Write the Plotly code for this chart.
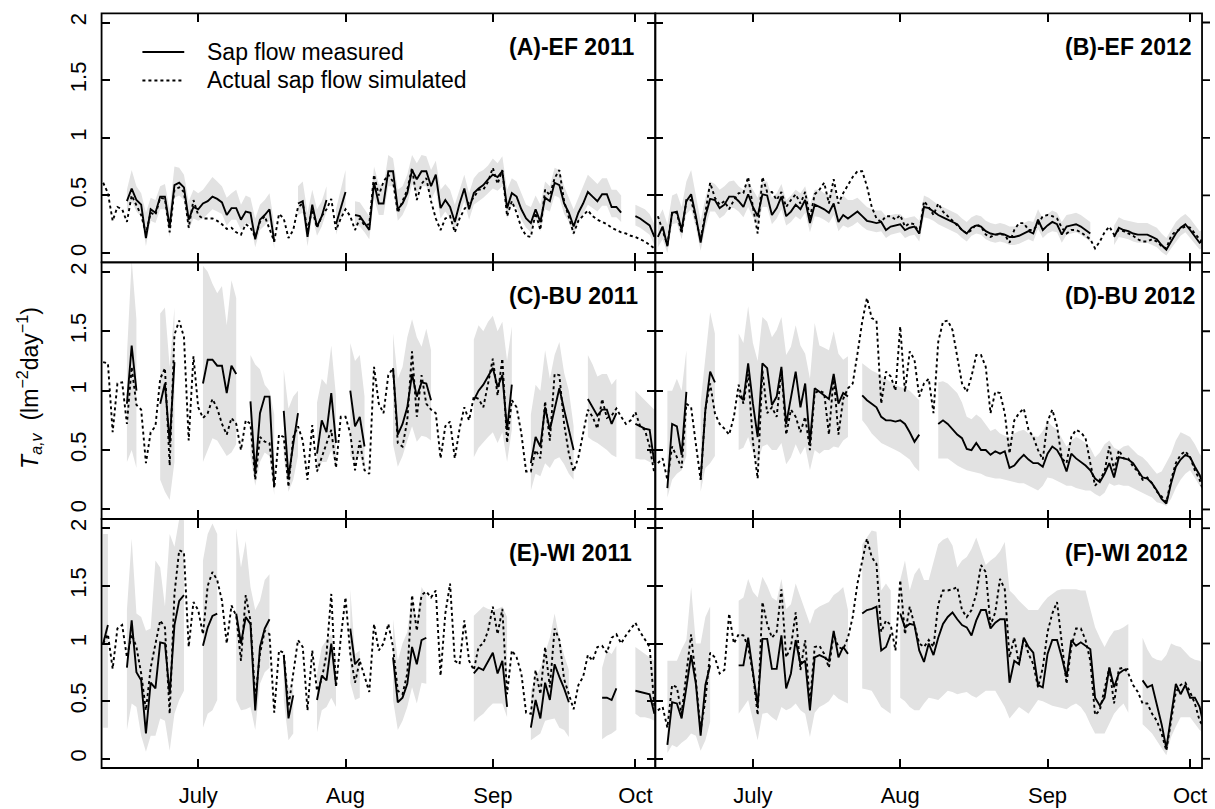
import pandas as pd
import plotly.graph_objects as go

N = None
FONT = "Liberation Sans, Arial, Helvetica, sans-serif"

# ---------------------------------------------------------------- categories
N_DAYS = 117                      # daily values, 11 June ... 5 October
START = {"2011": "2011-06-11", "2012": "2012-06-11"}
month_ticks = ["07-01", "08-01", "09-01", "10-01"]
month_labels = ["July", "Aug", "Sep", "Oct"]
y_ticks = [0, 0.5, 1, 1.5, 2]
y_tick_labels = ["0", "0.5", "1", "1.5", "2"]
legend_labels = ["Sap flow measured", "Actual sap flow simulated"]
panel_labels = ["(A)-EF 2011", "(B)-EF 2012", "(C)-BU 2011",
                "(D)-BU 2012", "(E)-WI 2011", "(F)-WI 2012"]
panel_years = ["2011", "2012", "2011", "2012", "2011", "2012"]

# ---------------------------------------------------------------- (A) EF 2011
meas_A = [N, N, N, N, N, 0.45, 0.56, 0.46, 0.42, 0.13,
          0.38, 0.35, 0.49, 0.49, 0.23, 0.59, 0.61, 0.57, 0.29, 0.40,
          0.38, 0.43, 0.45, 0.49, 0.47, 0.44, 0.33, 0.39, 0.39, 0.29,
          0.36, 0.35, 0.12, 0.29, 0.33, 0.38, 0.10, N, N, N,
          N, 0.43, 0.45, 0.14, 0.42, 0.23, 0.32, 0.46, N, 0.25,
          0.40, 0.53, N, 0.33, 0.32, 0.26, 0.20, 0.61, 0.43, 0.43,
          0.71, 0.71, 0.38, 0.43, 0.52, 0.72, 0.64, 0.71, 0.71, 0.58,
          0.68, 0.39, 0.46, 0.40, 0.27, 0.43, 0.56, 0.38, 0.52, 0.56,
          0.59, 0.64, 0.68, 0.66, 0.71, 0.39, 0.52, 0.49, 0.38, 0.30,
          0.26, 0.38, 0.27, 0.48, 0.45, 0.61, 0.59, 0.43, 0.35, 0.23,
          0.35, 0.43, 0.53, 0.49, 0.45, 0.51, 0.51, 0.40, 0.40, 0.35,
          N, N, 0.32, 0.30, 0.27, 0.24, 0.14]
sim_A = [0.61, 0.52, 0.28, 0.40, 0.38, 0.27, 0.50, 0.42, 0.33, 0.17,
         0.35, 0.33, 0.48, 0.47, 0.18, 0.55, 0.57, 0.53, 0.22, 0.46,
         0.33, 0.30, 0.30, 0.30, 0.28, 0.25, 0.21, 0.22, 0.18, 0.16,
         0.25, 0.22, 0.14, 0.27, 0.32, 0.20, 0.10, 0.34, 0.30, 0.13,
         0.20, 0.40, 0.43, 0.20, 0.38, 0.22, 0.32, 0.38, 0.47, 0.20,
         0.30, 0.38, 0.32, 0.20, 0.30, 0.24, 0.25, 0.68, 0.50, 0.62,
         0.68, 0.62, 0.35, 0.45, 0.55, 0.74, 0.46, 0.60, 0.65, 0.45,
         0.30, 0.20, 0.30, 0.32, 0.18, 0.30, 0.38, 0.44, 0.48, 0.55,
         0.55, 0.62, 0.74, 0.60, 0.72, 0.32, 0.45, 0.35, 0.22, 0.15,
         0.14, 0.35, 0.20, 0.55, 0.50, 0.65, 0.72, 0.45, 0.30, 0.17,
         0.28, 0.33, 0.37, 0.32, 0.29, 0.27, 0.25, 0.22, 0.20, 0.18,
         0.17, 0.15, 0.14, 0.12, 0.10, 0.07, 0.04]
hi_A = [N, N, N, N, N, 0.55, 0.72, 0.58, 0.52, 0.35,
        0.48, 0.46, 0.58, 0.60, 0.38, 0.75, 0.74, 0.68, 0.45, 0.55,
        0.52, 0.55, 0.60, 0.66, 0.62, 0.58, 0.48, 0.52, 0.55, 0.42,
        0.50, 0.48, 0.30, 0.42, 0.46, 0.52, 0.25, N, N, N,
        N, 0.58, 0.62, 0.35, 0.55, 0.38, 0.45, 0.58, N, 0.38,
        0.55, 0.72, N, 0.45, 0.44, 0.38, 0.32, 0.75, 0.60, 0.58,
        0.85, 0.82, 0.55, 0.58, 0.68, 0.85, 0.78, 0.85, 0.84, 0.72,
        0.80, 0.55, 0.60, 0.55, 0.42, 0.55, 0.68, 0.52, 0.65, 0.70,
        0.72, 0.76, 0.82, 0.78, 0.84, 0.55, 0.65, 0.62, 0.52, 0.42,
        0.40, 0.50, 0.42, 0.62, 0.58, 0.74, 0.72, 0.58, 0.48, 0.38,
        0.48, 0.58, 0.68, 0.64, 0.60, 0.65, 0.65, 0.55, 0.55, 0.50,
        N, N, 0.42, 0.40, 0.38, 0.34, 0.25]
lo_A = [N, N, N, N, N, 0.35, 0.45, 0.36, 0.32, 0.06,
        0.28, 0.26, 0.38, 0.38, 0.14, 0.48, 0.50, 0.46, 0.20, 0.30,
        0.28, 0.30, 0.34, 0.38, 0.36, 0.34, 0.24, 0.29, 0.29, 0.20,
        0.26, 0.25, 0.05, 0.20, 0.24, 0.28, 0.04, N, N, N,
        N, 0.33, 0.35, 0.06, 0.32, 0.15, 0.23, 0.36, N, 0.16,
        0.30, 0.42, N, 0.24, 0.23, 0.18, 0.12, 0.48, 0.33, 0.33,
        0.58, 0.58, 0.28, 0.33, 0.42, 0.60, 0.52, 0.58, 0.58, 0.46,
        0.55, 0.30, 0.36, 0.30, 0.19, 0.33, 0.45, 0.29, 0.42, 0.45,
        0.48, 0.52, 0.56, 0.54, 0.58, 0.30, 0.42, 0.39, 0.29, 0.22,
        0.18, 0.29, 0.19, 0.38, 0.36, 0.50, 0.48, 0.34, 0.27, 0.15,
        0.27, 0.34, 0.42, 0.39, 0.36, 0.41, 0.41, 0.31, 0.31, 0.27,
        N, N, 0.24, 0.22, 0.19, 0.16, 0.07]

# ---------------------------------------------------------------- (B) EF 2012
meas_B = [0.14, 0.23, 0.06, 0.35, 0.36, 0.20, 0.45, 0.51, 0.32, 0.09,
          0.32, 0.47, 0.46, 0.39, 0.42, 0.49, 0.49, 0.45, 0.40, 0.51,
          0.40, 0.32, 0.51, 0.50, 0.33, 0.39, 0.49, 0.32, 0.36, 0.42,
          0.38, 0.46, 0.26, 0.42, 0.40, 0.38, 0.35, 0.43, 0.27, 0.33,
          0.30, 0.33, 0.36, 0.32, 0.28, 0.27, 0.26, 0.27, 0.20, 0.23,
          0.24, 0.25, 0.20, 0.22, 0.23, 0.17, 0.40, 0.39, 0.36, 0.33,
          0.31, 0.29, 0.27, 0.25, 0.20, 0.17, 0.22, 0.24, 0.23, 0.19,
          0.17, 0.16, 0.17, 0.16, 0.14, 0.14, 0.15, 0.17, 0.19, 0.17,
          0.29, 0.20, 0.24, 0.27, 0.25, 0.16, 0.23, 0.24, 0.25, 0.23,
          0.20, 0.17, N, N, N, N, 0.14, 0.22, 0.20, 0.19,
          0.17, 0.16, 0.16, 0.16, 0.14, 0.12, 0.07, 0.03, 0.10, 0.17,
          0.22, 0.25, 0.20, 0.14, 0.09, 0.12, 0.13]
sim_B = [0.32, 0.20, 0.07, 0.35, 0.35, 0.17, 0.46, 0.46, 0.29, 0.12,
         0.35, 0.61, 0.48, 0.42, 0.45, 0.38, 0.46, 0.52, 0.52, 0.66,
         0.40, 0.17, 0.66, 0.53, 0.53, 0.46, 0.53, 0.40, 0.46, 0.51,
         0.43, 0.53, 0.30, 0.51, 0.55, 0.61, 0.43, 0.64, 0.43, 0.52,
         0.59, 0.66, 0.71, 0.71, 0.58, 0.40, 0.30, 0.27, 0.32, 0.32,
         0.29, 0.33, 0.23, 0.26, 0.25, 0.17, 0.45, 0.40, 0.33, 0.43,
         0.36, 0.32, 0.28, 0.24, 0.20, 0.17, 0.20, 0.25, 0.23, 0.16,
         0.14, 0.16, 0.16, 0.16, 0.09, 0.20, 0.26, 0.26, 0.20, 0.20,
         0.25, 0.32, 0.33, 0.32, 0.30, 0.22, 0.17, 0.20, 0.20, 0.18,
         0.15, 0.12, 0.04, 0.10, 0.18, 0.23, 0.16, 0.20, 0.19, 0.17,
         0.15, 0.12, 0.10, 0.10, 0.12, 0.10, 0.06, 0.04, 0.15, 0.19,
         0.21, 0.23, 0.22, 0.17, 0.12, 0.09, 0.12]
hi_B = [0.30, 0.38, 0.25, 0.50, 0.52, 0.40, 0.62, 0.72, 0.50, 0.28,
        0.48, 0.62, 0.60, 0.55, 0.58, 0.62, 0.63, 0.58, 0.55, 0.62,
        0.55, 0.48, 0.62, 0.62, 0.48, 0.52, 0.60, 0.46, 0.50, 0.55,
        0.52, 0.58, 0.42, 0.55, 0.55, 0.52, 0.50, 0.58, 0.45, 0.50,
        0.46, 0.46, 0.48, 0.44, 0.40, 0.38, 0.37, 0.37, 0.32, 0.33,
        0.34, 0.34, 0.30, 0.31, 0.32, 0.28, 0.50, 0.48, 0.45, 0.42,
        0.40, 0.38, 0.36, 0.34, 0.30, 0.27, 0.31, 0.33, 0.32, 0.28,
        0.26, 0.25, 0.26, 0.25, 0.23, 0.23, 0.24, 0.26, 0.28, 0.27,
        0.38, 0.30, 0.34, 0.37, 0.35, 0.27, 0.33, 0.34, 0.35, 0.33,
        0.30, 0.27, N, N, N, N, 0.24, 0.31, 0.29, 0.28,
        0.27, 0.26, 0.26, 0.26, 0.24, 0.22, 0.17, 0.13, 0.20, 0.27,
        0.31, 0.34, 0.30, 0.24, 0.19, 0.21, 0.22]
lo_B = [0.05, 0.12, 0.00, 0.25, 0.26, 0.12, 0.34, 0.38, 0.22, 0.02,
        0.22, 0.36, 0.36, 0.30, 0.33, 0.39, 0.39, 0.36, 0.31, 0.40,
        0.31, 0.24, 0.40, 0.40, 0.25, 0.30, 0.38, 0.24, 0.27, 0.32,
        0.29, 0.35, 0.18, 0.32, 0.31, 0.29, 0.26, 0.33, 0.19, 0.24,
        0.22, 0.24, 0.27, 0.23, 0.20, 0.19, 0.18, 0.19, 0.13, 0.16,
        0.17, 0.18, 0.13, 0.15, 0.16, 0.10, 0.31, 0.30, 0.28, 0.25,
        0.23, 0.21, 0.19, 0.17, 0.13, 0.10, 0.15, 0.17, 0.16, 0.12,
        0.10, 0.09, 0.10, 0.09, 0.07, 0.07, 0.08, 0.10, 0.12, 0.10,
        0.21, 0.13, 0.17, 0.19, 0.18, 0.09, 0.16, 0.17, 0.18, 0.16,
        0.13, 0.10, N, N, N, N, 0.07, 0.14, 0.13, 0.12,
        0.10, 0.09, 0.09, 0.09, 0.07, 0.05, 0.01, -0.02, 0.04, 0.10,
        0.15, 0.18, 0.13, 0.08, 0.03, 0.05, 0.06]

# ---------------------------------------------------------------- (C) BU 2011
meas_C = [N, N, N, N, N, 0.89, 1.38, 1.00, N, N,
          N, N, 0.89, 1.06, 0.56, 1.24, N, N, N, N,
          N, 1.06, 1.26, 1.26, 1.21, 1.21, 0.98, 1.21, 1.14, N,
          N, 0.91, 0.30, 0.81, 0.95, 0.95, 0.19, N, 0.83, 0.27,
          0.55, 0.81, N, N, N, 0.47, 0.75, 0.65, 0.98, 0.56,
          N, N, 1.00, 0.70, 0.78, 0.53, N, N, N, N,
          N, 1.19, 0.63, 0.72, 0.86, 1.14, 0.95, 1.07, 1.06, 0.92,
          N, N, N, N, N, N, N, N, 0.92, 1.00,
          1.05, 1.12, 1.19, 1.03, 1.13, 0.67, 1.05, N, N, N,
          0.39, 0.61, 0.53, 0.86, 0.67, 0.85, 1.02, 0.84, 0.67, 0.50,
          N, N, 0.93, 0.86, 0.79, 0.84, 0.84, 0.72, 0.81, N,
          N, N, 0.72, 0.70, 0.68, 0.67, 0.39]
sim_C = [1.24, 1.23, 0.65, 1.06, 1.07, 0.72, 1.20, 0.88, 0.84, 0.39,
         0.65, 0.70, 1.10, 1.19, 0.37, 1.47, 1.59, 1.45, 0.58, 1.29,
         0.86, 0.77, 0.81, 0.93, 0.85, 0.72, 0.63, 0.77, 0.72, 0.50,
         0.75, 0.72, 0.25, 0.61, 0.57, 0.56, 0.18, 0.63, 0.61, 0.19,
         0.61, 0.70, 0.58, 0.25, 0.71, 0.32, 0.44, 0.56, 0.67, 0.35,
         0.78, 0.78, 0.64, 0.33, 0.58, 0.33, 0.30, 1.20, 0.89, 0.81,
         1.13, 1.19, 0.56, 0.53, 0.75, 1.33, 0.78, 1.13, 0.89, 0.84,
         0.81, 0.43, 0.70, 0.74, 0.43, 0.68, 0.86, 0.75, 0.95, 0.93,
         0.86, 1.06, 1.27, 0.96, 1.27, 0.56, 0.92, 0.86, 0.64, 0.32,
         0.32, 0.50, 0.43, 0.91, 0.58, 1.14, 1.13, 0.72, 0.47, 0.32,
         0.44, 0.64, 0.84, 0.78, 0.68, 0.93, 0.77, 0.79, 0.85, 0.78,
         0.72, 0.75, 0.82, 0.70, 0.67, 0.53, 0.30]
hi_C = [N, N, N, N, N, 1.30, 2.10, 1.60, N, N,
        N, N, 1.65, 1.70, 1.20, 1.70, N, N, N, N,
        N, 2.05, 2.00, 1.90, 1.82, 1.88, 1.55, 1.93, 1.78, N,
        N, 1.30, 1.22, 1.18, 1.05, 1.00, 0.80, N, 1.18, 0.85,
        0.95, 1.00, N, N, N, 0.90, 1.10, 1.05, 1.38, 0.95,
        N, N, 1.40, 1.25, 1.30, 0.95, N, N, N, N,
        N, 1.48, 1.10, 1.20, 1.45, 1.60, 1.45, 1.37, 1.52, 1.34,
        N, N, N, N, N, N, N, N, 1.43, 1.55,
        1.50, 1.58, 1.63, 1.50, 1.58, 1.25, 1.54, N, N, N,
        0.80, 1.05, 1.00, 1.34, 1.10, 1.30, 1.41, 1.15, 1.00, 0.70,
        N, N, 1.30, 1.22, 1.12, 1.14, 1.14, 1.05, 1.10, N,
        N, N, 1.00, 0.96, 0.92, 0.88, 0.84]
lo_C = [N, N, N, N, N, 0.40, 0.50, 0.35, N, N,
        N, N, 0.25, 0.15, 0.08, 0.40, N, N, N, N,
        N, 0.40, 0.50, 0.60, 0.58, 0.52, 0.45, 0.48, 0.55, N,
        N, 0.45, 0.20, 0.40, 0.48, 0.45, 0.12, N, 0.45, 0.15,
        0.25, 0.45, N, N, N, 0.30, 0.40, 0.40, 0.50, 0.35,
        N, N, 0.45, 0.40, 0.45, 0.35, N, N, N, N,
        N, 0.55, 0.36, 0.45, 0.58, 0.70, 0.57, 0.62, 0.61, 0.58,
        N, N, N, N, N, N, N, N, 0.44, 0.52,
        0.56, 0.61, 0.65, 0.56, 0.65, 0.40, 0.67, N, N, N,
        0.16, 0.30, 0.28, 0.39, 0.35, 0.42, 0.44, 0.38, 0.30, 0.25,
        N, N, 0.61, 0.58, 0.56, 0.53, 0.50, 0.46, 0.44, N,
        N, N, 0.43, 0.42, 0.42, 0.40, 0.39]

# ---------------------------------------------------------------- (D) BU 2012
meas_D = [N, N, 0.18, 0.72, 0.70, 0.46, 0.99, N, N, 0.25,
          0.84, 1.16, 1.07, N, N, N, N, 0.96, 0.92, 1.23,
          0.89, 0.61, 1.23, 1.19, 0.88, 0.95, 1.20, 0.72, 0.95, 1.16,
          0.86, 1.06, 0.56, 1.02, 0.99, 0.96, 0.93, 1.14, 0.89, 0.98,
          0.95, N, N, 0.96, 0.92, 0.89, 0.86, 0.78, 0.75, 0.75,
          0.74, 0.75, 0.72, 0.65, 0.57, 0.63, N, N, N, 0.72,
          0.75, 0.72, 0.67, 0.63, 0.60, 0.51, 0.50, 0.56, 0.50, 0.50,
          0.46, 0.49, 0.47, 0.49, 0.35, 0.37, 0.42, 0.46, 0.42, 0.39,
          0.39, 0.36, 0.47, 0.53, 0.50, 0.43, 0.32, 0.47, 0.43, 0.40,
          0.37, 0.33, 0.26, 0.23, 0.30, 0.39, 0.27, 0.44, 0.43, 0.42,
          0.39, 0.33, 0.27, 0.26, 0.22, 0.16, 0.09, 0.05, 0.22, 0.36,
          0.42, 0.46, 0.44, 0.36, 0.29, 0.19, 0.22]
sim_D = [0.39, 0.43, 0.25, 0.53, 0.44, 0.35, 0.89, 0.86, 0.55, 0.25,
         0.84, 1.06, 0.81, 0.72, 0.68, 0.63, 0.78, 1.05, 0.89, 1.14,
         0.57, 0.26, 1.17, 0.81, 0.86, 0.78, 1.17, 0.63, 0.84, 0.78,
         0.65, 0.78, 0.50, 0.98, 1.00, 0.98, 0.63, 1.12, 0.63, 0.93,
         1.02, 1.06, 1.31, 1.58, 1.78, 1.61, 1.59, 0.89, 1.16, 1.12,
         1.00, 1.54, 0.99, 1.33, 1.26, 0.95, 1.06, 1.10, 0.81, 1.41,
         1.58, 1.59, 1.51, 1.29, 1.06, 0.99, 1.12, 1.30, 1.30, 1.20,
         0.81, 0.99, 0.98, 0.81, 0.47, 0.75, 0.81, 0.85, 0.67, 0.61,
         0.50, 0.42, 0.74, 0.84, 0.70, 0.43, 0.39, 0.61, 0.67, 0.65,
         0.60, 0.39, 0.20, 0.25, 0.32, 0.53, 0.33, 0.50, 0.43, 0.43,
         0.36, 0.32, 0.25, 0.27, 0.22, 0.15, 0.11, 0.06, 0.25, 0.39,
         0.46, 0.49, 0.44, 0.33, 0.25, 0.13, 0.22]
hi_D = [N, N, 1.00, 1.00, 1.10, 1.00, 1.34, N, N, 0.90,
        1.30, 1.66, 1.48, N, N, N, N, 1.48, 1.40, 1.71,
        1.40, 1.25, 1.62, 1.58, 1.45, 1.51, 1.62, 1.30, 1.37, 1.55,
        1.38, 1.31, 1.10, 1.57, 1.38, 1.36, 1.34, 1.50, 1.31, 1.26,
        1.29, N, N, 1.23, 1.20, 1.17, 1.15, 1.12, 1.10, 1.07,
        1.05, 1.03, 1.02, 1.00, 0.96, 0.92, N, N, N, 1.07,
        1.08, 1.06, 1.02, 0.98, 0.90, 0.78, 0.76, 0.80, 0.77, 0.72,
        0.66, 0.68, 0.64, 0.62, 0.61, 0.64, 0.66, 0.67, 0.64, 0.62,
        0.61, 0.66, 0.74, 0.70, 0.67, 0.60, 0.53, 0.58, 0.61, 0.59,
        0.56, 0.52, 0.44, 0.48, 0.55, 0.58, 0.52, 0.50, 0.53, 0.54,
        0.50, 0.46, 0.44, 0.40, 0.35, 0.30, 0.32, 0.40, 0.47, 0.58,
        0.65, 0.63, 0.61, 0.55, 0.47, 0.42, 0.39]
lo_D = [N, N, 0.10, 0.25, 0.30, 0.33, 0.45, N, N, 0.15,
        0.35, 0.39, 0.45, N, N, N, N, 0.50, 0.52, 0.61,
        0.48, 0.39, 0.53, 0.55, 0.50, 0.50, 0.56, 0.38, 0.44, 0.55,
        0.46, 0.53, 0.33, 0.50, 0.47, 0.50, 0.50, 0.53, 0.52, 0.58,
        0.61, N, N, 0.75, 0.70, 0.64, 0.60, 0.56, 0.54, 0.52,
        0.50, 0.48, 0.45, 0.42, 0.36, 0.32, N, N, N, 0.43,
        0.43, 0.43, 0.40, 0.37, 0.35, 0.33, 0.32, 0.31, 0.30, 0.28,
        0.27, 0.26, 0.26, 0.25, 0.24, 0.23, 0.22, 0.22, 0.20, 0.18,
        0.16, 0.20, 0.27, 0.26, 0.24, 0.22, 0.20, 0.20, 0.18, 0.17,
        0.16, 0.16, 0.13, 0.11, 0.14, 0.22, 0.20, 0.21, 0.20, 0.20,
        0.18, 0.16, 0.14, 0.12, 0.10, 0.06, 0.05, 0.03, 0.09, 0.18,
        0.25, 0.30, 0.33, 0.26, 0.20, 0.14, 0.16]

# ---------------------------------------------------------------- (E) WI 2011
meas_E = [1.00, 1.16, N, N, N, 0.79, 1.20, 0.75, 0.68, 0.22,
          0.66, 0.61, 1.01, 1.00, 0.56, 1.16, 1.37, 1.42, N, N,
          N, 0.98, 1.14, 1.24, 1.26, N, N, N, 1.26, 1.00,
          1.23, 1.17, 0.42, 0.97, 1.13, 1.21, N, N, 0.90, 0.35,
          0.55, N, N, N, N, 0.51, 0.72, 0.68, 1.00, 0.64,
          N, N, 1.13, 0.82, 0.87, N, N, N, N, N,
          N, 0.88, 0.49, 0.53, 0.65, 0.97, 0.82, 1.03, 1.05, N,
          N, N, N, N, N, N, N, N, 0.74, 0.79,
          0.77, 0.85, 0.92, 0.74, 0.85, 0.45, N, N, N, N,
          0.27, 0.51, 0.35, 0.66, 0.51, 0.82, 0.71, 0.61, 0.49, N,
          N, N, N, N, N, 0.53, 0.53, 0.51, 0.61, N,
          N, N, 0.59, 0.58, 0.57, 0.56, 0.39]
sim_E = [1.00, 1.08, 0.78, 1.13, 1.16, 0.88, 1.08, 0.97, 0.74, 0.42,
         0.79, 1.00, 1.20, 1.14, 0.39, 1.43, 1.81, 1.79, 0.97, 1.36,
         1.29, 1.08, 1.50, 1.62, 1.55, 1.37, 1.00, 1.33, 1.24, 0.85,
         1.42, 1.20, 0.52, 0.91, 1.11, 1.08, 0.40, 0.94, 0.92, 0.45,
         0.74, 1.03, 0.97, 0.42, 0.94, 0.59, 0.69, 0.91, 1.43, 0.62,
         1.05, 1.40, 0.91, 0.66, 0.85, 0.71, 0.58, 1.17, 0.94, 1.00,
         1.17, 0.97, 0.59, 0.56, 0.74, 1.42, 1.11, 1.42, 1.45, 1.40,
         1.46, 0.72, 1.26, 1.52, 0.85, 0.82, 1.20, 0.85, 0.77, 0.97,
         1.00, 1.11, 1.32, 1.08, 1.30, 0.56, 0.94, 0.88, 0.74, 0.40,
         0.39, 0.77, 0.56, 0.97, 0.62, 1.13, 1.03, 0.69, 0.56, 0.43,
         0.64, 0.71, 0.90, 0.85, 0.97, 0.98, 0.92, 1.05, 1.08, 1.00,
         1.07, 1.12, 1.18, 1.10, 1.03, 0.97, 0.45]
hi_E = [1.95, 1.95, N, N, N, 1.29, 1.91, 1.26, 1.23, 1.11,
        1.13, 1.72, 1.66, 1.32, 1.95, 1.84, 2.08, 2.07, N, N,
        N, 1.72, 1.95, 2.04, 1.95, N, N, N, 2.00, 1.66,
        1.89, 1.49, 1.29, 1.37, 1.55, 1.60, N, N, 0.95, 0.62,
        0.61, N, N, N, N, 0.74, 0.97, 1.03, 1.08, 0.88,
        N, N, 1.47, 0.91, 0.94, N, N, N, N, N,
        N, 1.21, 0.85, 1.00, 1.10, 1.42, 1.20, 1.49, 1.42, N,
        N, N, N, N, N, N, N, N, 1.24, 1.28,
        1.32, 1.30, 1.29, 1.30, 1.32, 1.23, N, N, N, N,
        0.59, 0.70, 0.79, 0.91, 1.05, 1.26, 1.05, 0.90, 0.77, N,
        N, N, N, N, N, 0.79, 0.94, 0.91, 0.98, N,
        N, N, 0.97, 0.94, 0.91, 0.88, 0.85]
lo_E = [0.27, 0.27, N, N, N, 0.25, 0.48, 0.45, 0.20, 0.06,
        0.20, 0.20, 0.35, 0.33, 0.07, 0.39, 0.51, 0.59, N, N,
        N, 0.27, 0.39, 0.42, 0.51, N, N, N, 0.51, 0.42,
        0.43, 0.45, 0.25, 0.65, 0.75, 0.79, N, N, 0.51, 0.16,
        0.22, N, N, N, N, 0.23, 0.42, 0.45, 0.53, 0.45,
        N, N, 0.66, 0.51, 0.53, N, N, N, N, N,
        N, 0.51, 0.25, 0.33, 0.45, 0.62, 0.48, 0.66, 0.65, N,
        N, N, N, N, N, N, N, N, 0.32, 0.36,
        0.39, 0.44, 0.48, 0.48, 0.48, 0.36, N, N, N, N,
        0.16, 0.19, 0.22, 0.33, 0.34, 0.35, 0.27, 0.25, 0.19, N,
        N, N, N, N, N, 0.17, 0.20, 0.22, 0.25, N,
        N, N, 0.39, 0.36, 0.36, 0.35, 0.33]

# ---------------------------------------------------------------- (F) WI 2012
meas_F = [N, N, 0.12, 0.49, 0.48, 0.35, 0.62, 0.90, 0.65, 0.20,
          0.64, 0.81, N, N, N, N, N, 0.81, 0.81, 1.05,
          0.74, 0.46, 1.04, 1.04, 0.78, 0.78, 1.07, 0.61, 0.74, 1.03,
          0.82, 0.85, 0.42, 0.88, 0.90, 0.88, 0.85, 1.11, 0.88, 0.97,
          0.91, N, N, 1.26, 1.29, 1.30, 1.32, 0.94, 0.97, 1.08,
          N, 1.26, 1.14, 1.17, 1.16, 0.94, 0.84, 1.00, 0.90, 1.05,
          1.17, 1.23, 1.27, 1.21, 1.16, 1.14, 1.07, 1.20, 1.29, 1.29,
          1.13, 1.18, 1.21, 1.21, 0.66, 0.85, 0.82, 1.05, 0.97, 0.92,
          0.64, 0.62, 0.91, 1.03, 1.03, 0.88, 0.71, 1.03, 0.98, 1.01,
          0.98, 0.95, 0.53, 0.46, 0.53, 0.79, 0.62, 0.74, 0.77, 0.78,
          N, N, 0.68, 0.62, 0.64, 0.48, 0.30, 0.09, 0.39, 0.65,
          0.56, 0.64, 0.53, 0.53, 0.45, 0.27, 0.45]
sim_F = [0.42, 0.45, 0.27, 0.64, 0.62, 0.39, 0.74, 1.08, 0.68, 0.25,
         0.51, 0.92, 0.88, 0.74, 0.77, 1.26, 1.00, 1.08, 1.07, 0.97,
         0.74, 0.38, 1.36, 1.17, 1.05, 1.10, 1.47, 0.88, 0.97, 1.27,
         0.77, 1.03, 0.48, 0.97, 0.98, 0.91, 0.79, 1.08, 0.97, 0.95,
         1.05, 1.23, 1.52, 1.71, 1.91, 1.75, 1.69, 1.10, 1.20, 1.16,
         0.94, 1.55, 1.08, 1.32, 1.17, 1.00, 0.97, 1.03, 0.97, 1.34,
         1.46, 1.46, 1.47, 1.49, 1.29, 1.23, 1.29, 1.43, 1.68, 1.62,
         1.16, 1.27, 1.56, 1.47, 0.88, 1.05, 0.82, 1.05, 0.91, 0.82,
         0.62, 0.79, 1.10, 1.26, 1.36, 1.03, 0.65, 0.97, 1.13, 1.13,
         1.03, 0.85, 0.38, 0.42, 0.62, 0.79, 0.48, 0.78, 0.79, 0.74,
         0.64, 0.58, 0.48, 0.48, 0.39, 0.33, 0.22, 0.07, 0.33, 0.58,
         0.64, 0.66, 0.58, 0.48, 0.33, 0.27, 0.51]
hi_F = [N, N, 0.85, 0.85, 0.85, 0.95, 1.03, 1.49, 1.00, 1.00,
        1.23, 1.32, N, N, N, N, N, 1.37, 1.40, 1.56,
        1.45, 1.40, 1.58, 1.50, 1.40, 1.37, 1.56, 1.30, 1.34, 1.52,
        1.40, 1.29, 1.17, 1.29, 1.32, 1.34, 1.36, 1.42, 1.45, 1.49,
        1.29, N, N, 1.86, 1.92, 1.98, 1.97, 1.46, 1.52, 1.46,
        N, 1.55, 1.72, 1.46, 1.60, 1.66, 1.55, 1.55, 1.70, 1.86,
        1.90, 1.92, 1.85, 1.66, 1.72, 1.75, 1.82, 1.92, 1.80, 1.68,
        1.72, 1.75, 1.80, 1.88, 1.46, 1.42, 1.37, 1.33, 1.29, 1.29,
        1.29, 1.35, 1.40, 1.43, 1.46, 1.47, 1.47, 1.47, 1.47, 1.46,
        1.46, 1.30, 1.14, 1.05, 0.97, 1.05, 1.11, 1.12, 1.14, 1.17,
        N, N, 1.05, 0.95, 0.88, 0.86, 0.85, 0.90, 1.00, 0.98,
        0.97, 0.92, 0.88, 0.86, 0.85, 0.82, 0.79]
lo_F = [N, N, 0.05, 0.12, 0.10, 0.14, 0.17, 0.22, 0.20, 0.07,
        0.16, 0.32, N, N, N, N, N, 0.39, 0.45, 0.51,
        0.35, 0.16, 0.39, 0.40, 0.36, 0.33, 0.45, 0.42, 0.44, 0.48,
        0.42, 0.39, 0.19, 0.40, 0.45, 0.47, 0.50, 0.56, 0.52, 0.50,
        0.48, N, N, 0.61, 0.60, 0.59, 0.52, 0.45, 0.42, 0.39,
        N, 0.53, 0.50, 0.45, 0.42, 0.42, 0.48, 0.53, 0.52, 0.51,
        0.55, 0.59, 0.58, 0.56, 0.57, 0.58, 0.55, 0.53, 0.56, 0.59,
        0.59, 0.59, 0.52, 0.45, 0.35, 0.40, 0.45, 0.42, 0.39, 0.45,
        0.51, 0.50, 0.48, 0.46, 0.45, 0.44, 0.43, 0.46, 0.48, 0.45,
        0.39, 0.30, 0.22, 0.22, 0.22, 0.30, 0.39, 0.44, 0.48, 0.40,
        N, N, 0.30, 0.26, 0.22, 0.15, 0.09, 0.03, 0.19, 0.28,
        0.36, 0.36, 0.36, 0.30, 0.25, 0.22, 0.22]

measured = [meas_A, meas_B, meas_C, meas_D, meas_E, meas_F]
simulated = [sim_A, sim_B, sim_C, sim_D, sim_E, sim_F]
band_hi = [hi_A, hi_B, hi_C, hi_D, hi_E, hi_F]
band_lo = [lo_A, lo_B, lo_C, lo_D, lo_E, lo_F]

# ---------------------------------------------------------------- layout geometry (pixels)
W, H = 1215, 809
COL_X = [(102, 658), (658, 1207)]
ROW_Y = [(13.3, 262.3), (262.3, 519.0), (519.0, 768.0)]
X_RANGE = {"2011": ["2011-06-10 16:00", "2011-10-05 04:30"],
           "2012": ["2012-06-10 11:00", "2012-10-03 12:15"]}
Y_RANGE = [-0.08, 2.08]
BAND_COLOR = "#e2e2e2"
LINE_W = 1.9
AXIS_W = 1.8


def band_polygons(x, lo, hi):
    xs, ys, run = [], [], []
    for xi, l, h in list(zip(x, lo, hi)) + [(None, None, None)]:
        if l is None or h is None:
            if run:
                xs += [r[0] for r in run] + [r[0] for r in reversed(run)] + [None]
                ys += [r[2] for r in run] + [r[1] for r in reversed(run)] + [None]
                run = []
        else:
            run.append((xi, l, h))
    return xs, ys


fig = go.Figure()
layout = {}
annotations = []
shapes = []

for k in range(6):
    row, col = divmod(k, 2)
    year = panel_years[k]
    sfx = "" if k == 0 else str(k + 1)
    xa, ya = "x" + sfx, "y" + sfx
    dates = pd.date_range(START[year], periods=N_DAYS, freq="D")

    bx, by = band_polygons(dates, band_lo[k], band_hi[k])
    fig.add_trace(go.Scatter(x=bx, y=by, mode="lines", fill="toself",
                             fillcolor=BAND_COLOR, line=dict(width=0),
                             hoverinfo="skip", showlegend=False,
                             xaxis=xa, yaxis=ya))
    fig.add_trace(go.Scatter(x=dates, y=simulated[k], mode="lines",
                             line=dict(color="black", width=LINE_W, dash="3px,3px"),
                             connectgaps=False, showlegend=False,
                             name=legend_labels[1], xaxis=xa, yaxis=ya))
    fig.add_trace(go.Scatter(x=dates, y=measured[k], mode="lines",
                             line=dict(color="black", width=LINE_W),
                             connectgaps=False, showlegend=False,
                             name=legend_labels[0], xaxis=xa, yaxis=ya))

    x0, x1 = COL_X[col]
    y0, y1 = ROW_Y[row]
    layout["xaxis" + sfx] = dict(
        domain=[x0 / W, x1 / W], anchor=ya, type="date", range=X_RANGE[year],
        tickmode="array", tickvals=[f"{year}-{m}" for m in month_ticks],
        ticktext=month_labels, showticklabels=(row == 2),
        ticks="inside", ticklen=9, tickwidth=AXIS_W, tickcolor="black",
        showline=False, mirror="ticks",
        showgrid=False, zeroline=False, ticklabelstandoff=12,
        tickfont=dict(family=FONT, size=22, color="black"))
    layout["yaxis" + sfx] = dict(
        domain=[1 - y1 / H, 1 - y0 / H], anchor=xa, range=Y_RANGE,
        tickmode="array", tickvals=y_ticks, ticktext=y_tick_labels,
        showticklabels=(col == 0), tickangle=-90,
        ticks="inside", ticklen=8, tickwidth=AXIS_W, tickcolor="black",
        showline=False, mirror="ticks" if col == 0 else False,
        showgrid=False, zeroline=False, ticklabelstandoff=10,
        tickfont=dict(family=FONT, size=22, color="black"))

    # panel frame (shared edges coincide exactly)
    shapes.append(dict(type="rect", xref="paper", yref="paper",
                       x0=x0 / W, x1=x1 / W, y0=1 - y1 / H, y1=1 - y0 / H,
                       line=dict(color="black", width=AXIS_W), layer="above"))

    # panel label
    annotations.append(dict(
        text="<b>" + panel_labels[k] + "</b>", xref="paper", yref="paper",
        x=(509 if col == 0 else 1067) / W, y=1 - (y0 + 34) / H,
        xanchor="left", yanchor="middle", showarrow=False,
        font=dict(family=FONT, size=23, color="black")))

    # outward ticks of the neighbouring frame at the right edge of right panels
    if col == 1:
        for t in y_ticks:
            shapes.append(dict(type="line", xref="paper", yref=ya,
                               x0=1207 / W, x1=1.0, y0=t, y1=t,
                               line=dict(color="black", width=AXIS_W)))

# legend (drawn inside panel A)
for j, (lab, dash) in enumerate(zip(legend_labels, ["solid", "3px,3px"])):
    yy = 1 - (52 + 28.5 * j) / H
    shapes.append(dict(type="line", xref="paper", yref="paper",
                       x0=143 / W, x1=185 / W, y0=yy, y1=yy,
                       line=dict(color="black", width=LINE_W, dash=dash)))
    annotations.append(dict(text=lab, xref="paper", yref="paper",
                            x=206 / W, y=yy, xanchor="left", yanchor="middle",
                            showarrow=False,
                            font=dict(family=FONT, size=23, color="black")))

# y-axis title
annotations.append(dict(
    text="<i>T</i><sub><i>a,v</i></sub>  (lm<sup>\u22122</sup>day<sup>\u22121</sup>)",
    xref="paper", yref="paper", x=29 / W, y=1 - 388 / H, textangle=-90,
    xanchor="center", yanchor="middle", showarrow=False,
    font=dict(family=FONT, size=23, color="black")))

fig.update_layout(width=W, height=H, margin=dict(l=0, r=0, t=0, b=0),
                  paper_bgcolor="white", plot_bgcolor="white",
                  showlegend=False, annotations=annotations, shapes=shapes,
                  font=dict(family=FONT, size=22, color="black"), **layout)

fig.write_html("out.html")
